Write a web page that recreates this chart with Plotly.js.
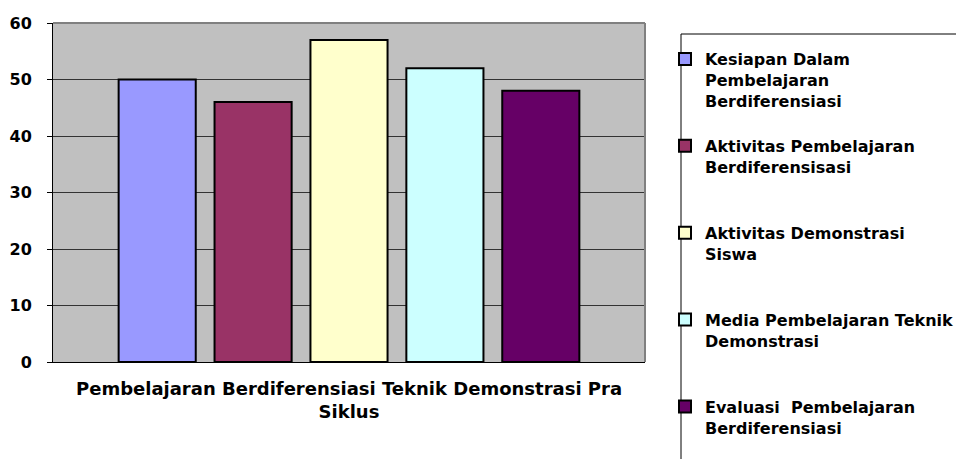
<!DOCTYPE html>
<html>
<head>
<meta charset="utf-8">
<script src="https://cdn.plot.ly/plotly-3.0.1.min.js"></script>
<style>html,body{margin:0;padding:0;background:#fff;}#chart{width:956px;height:459px;}</style>
</head>
<body>
<div id="chart"></div>
<script>
// Data
var categories = ["Pembelajaran Berdiferensiasi Teknik Demonstrasi Pra<br>Siklus"];
var seriesNames = [
  "Kesiapan Dalam<br>Pembelajaran<br>Berdiferensiasi",
  "Aktivitas Pembelajaran<br>Berdiferensisasi<br> ",
  "Aktivitas Demonstrasi<br>Siswa<br> ",
  "Media Pembelajaran Teknik<br>Demonstrasi<br> ",
  "Evaluasi\u00a0 Pembelajaran<br>Berdiferensiasi"
];
var kesiapan = [50];
var aktivitasPembelajaran = [46];
var aktivitasDemonstrasi = [57];
var mediaPembelajaran = [52];
var evaluasi = [48];
var seriesValues = [kesiapan, aktivitasPembelajaran, aktivitasDemonstrasi, mediaPembelajaran, evaluasi];
var colors = ["#9999FF", "#993366", "#FFFFCC", "#CCFFFF", "#660066"];
var yTickVals = [0, 10, 20, 30, 40, 50, 60];

var FONT = "DejaVu Sans";
var traces = seriesValues.map(function (vals, i) {
  return {
    type: "bar",
    name: seriesNames[i],
    x: categories,
    y: vals,
    legendgroup: "g" + i,
    marker: { color: colors[i], line: { color: "#000000", width: 2 } },
    hoverinfo: "skip"
  };
});

var L = 53, R = 645, T = 23, B = 362;
function px2paperX(px) { return (px - L) / (R - L); }
function px2paperY(py) { return (B - py) / (B - T); }

var layout = {
  width: 956,
  height: 459,
  margin: { l: L, r: 956 - R, t: T, b: 459 - B, autoexpand: false },
  paper_bgcolor: "#ffffff",
  plot_bgcolor: "#C0C0C0",
  barmode: "group",
  bargap: 0.19,
  bargroupgap: 0.196,
  font: { family: FONT, color: "#000000" },
  showlegend: true,
  legend: {
    xref: "container", yref: "container",
    x: 665 / 956, y: 1 - 42 / 459,
    xanchor: "left", yanchor: "top",
    valign: "top",
    tracegroupgap: 21.5,
    maxheight: 1,
    bgcolor: "rgba(0,0,0,0)",
    borderwidth: 0,
    font: { family: FONT, size: 16, weight: "bold", color: "#000000" }
  },
  xaxis: {
    type: "category",
    showgrid: false,
    zeroline: false,
    showline: true,
    linecolor: "#000000",
    linewidth: 1,
    ticks: "",
    ticklabelstandoff: 10,
    tickfont: { family: FONT, size: 18, weight: "bold", color: "#000000" },
    fixedrange: true
  },
  yaxis: {
    range: [0, 60],
    tickvals: yTickVals,
    ticktext: yTickVals.map(String),
    showgrid: true,
    gridcolor: "#333333",
    gridwidth: 1,
    zeroline: false,
    showline: true,
    linecolor: "#000000",
    linewidth: 1,
    ticks: "outside",
    ticklen: 5,
    tickcolor: "#000000",
    ticklabelstandoff: 12,
    tickfont: { family: FONT, size: 16, weight: "bold", color: "#000000" },
    fixedrange: true
  },
  shapes: [
    { type: "line", xref: "paper", yref: "paper", x0: 0, x1: 1, y0: 1, y1: 1, line: { color: "#808080", width: 2 } },
    { type: "line", xref: "paper", yref: "paper", x0: 1, x1: 1, y0: 0, y1: 1, line: { color: "#808080", width: 2 } },
    { type: "rect", xref: "paper", yref: "paper",
      x0: px2paperX(681), x1: px2paperX(980), y0: px2paperY(480), y1: px2paperY(34),
      line: { color: "#000000", width: 1 }, fillcolor: "rgba(0,0,0,0)" }
  ]
};

Plotly.newPlot("chart", traces, layout, { staticPlot: true, displayModeBar: false });
</script>
</body>
</html>
